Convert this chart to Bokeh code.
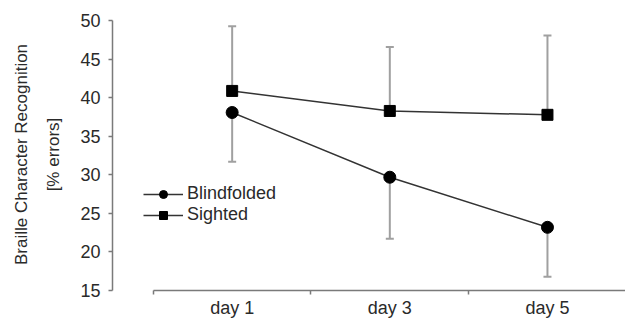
from bokeh.plotting import figure
from bokeh.models import Range1d, FixedTicker, Whisker, ColumnDataSource, TeeHead
from bokeh.embed import file_html
from bokeh.resources import INLINE

days = ["day 1", "day 3", "day 5"]
day_pos = [1, 2, 3]
blind_mean = [38.1, 29.7, 23.2]
blind_err = [6.4, 8.0, 6.4]
sighted_mean = [40.9, 38.3, 37.8]
sighted_err = [8.4, 8.3, 10.3]
y_ticks = [15, 20, 25, 30, 35, 40, 45, 50]

FONT = "Liberation Sans"
TXT = "#2a2a2a"
AX = "#7a7a7a"
ERR = "#a0a0a0"
LINE = "#333333"

p = figure(width=625, height=321, output_backend="svg", toolbar_location=None,
           x_range=Range1d(0.241, 3.495), y_range=Range1d(15, 50.3),
           min_border_left=112, min_border_right=0, min_border_top=18, min_border_bottom=31)
p.outline_line_color = None
p.xgrid.visible = False
p.ygrid.visible = False

blind_src = ColumnDataSource(dict(x=day_pos, y=blind_mean,
                                  lower=[m - e for m, e in zip(blind_mean, blind_err)]))
sight_src = ColumnDataSource(dict(x=day_pos, y=sighted_mean,
                                  upper=[m + e for m, e in zip(sighted_mean, sighted_err)]))

wb = Whisker(base="x", upper="y", lower="lower", source=blind_src, level="underlay",
             line_color=ERR, line_width=2, upper_head=None,
             lower_head=TeeHead(size=8, line_color=ERR, line_width=2))
ws = Whisker(base="x", upper="upper", lower="y", source=sight_src, level="underlay",
             line_color=ERR, line_width=2, lower_head=None,
             upper_head=TeeHead(size=8, line_color=ERR, line_width=2))
p.add_layout(wb)
p.add_layout(ws)

p.line("x", "y", source=sight_src, line_color=LINE, line_width=1.5, legend_label="Sighted")
p.scatter("x", "y", source=sight_src, marker="square", size=11, fill_color="black",
          line_color="black", legend_label="Sighted")
p.line("x", "y", source=blind_src, line_color=LINE, line_width=1.5, legend_label="Blindfolded")
p.scatter("x", "y", source=blind_src, marker="circle", size=12, fill_color="black",
          line_color="black", legend_label="Blindfolded")

items = p.legend[0].items
p.legend[0].items = [items[1], items[0]]
lg = p.legend[0]
lg.location = (31, 65)
lg.border_line_color = None
lg.background_fill_alpha = 0
lg.padding = 0
lg.margin = 0
lg.spacing = 0
lg.glyph_width = 40
lg.glyph_height = 20
lg.label_height = 20
lg.label_standoff = 4
lg.label_text_font = FONT
lg.label_text_font_size = "18px"
lg.label_text_color = TXT

ya = p.yaxis[0]
ya.ticker = FixedTicker(ticks=y_ticks)
ya.bounds = (15, 50)
ya.axis_label = "Braille Character Recognition\n[% errors]"
ya.axis_label_text_font = FONT
ya.axis_label_text_font_size = "17px"
ya.axis_label_text_font_style = "normal"
ya.axis_label_text_color = TXT
ya.axis_label_text_line_height = 1.7
ya.axis_label_standoff = 14
ya.major_label_text_font = FONT
ya.major_label_text_font_size = "18px"
ya.major_label_text_color = TXT
ya.major_label_standoff = 8
ya.major_tick_out = 4
ya.major_tick_in = 0
ya.minor_tick_out = 0
ya.minor_tick_in = 0
ya.axis_line_color = AX
ya.axis_line_width = 1.5
ya.major_tick_line_color = AX
ya.major_tick_line_width = 1.5

xa = p.xaxis[0]
xa.ticker = FixedTicker(ticks=day_pos, minor_ticks=[0.5, 1.5, 2.5, 3.5])
xa.major_label_overrides = {pos: d for pos, d in zip(day_pos, days)}
xa.bounds = (0.5, 3.5)
xa.major_label_text_font = FONT
xa.major_label_text_font_size = "18px"
xa.major_label_text_color = TXT
xa.major_label_standoff = 3
xa.major_tick_out = 0
xa.major_tick_in = 0
xa.minor_tick_out = 4
xa.minor_tick_in = 0
xa.axis_line_color = AX
xa.axis_line_width = 1.5
xa.minor_tick_line_color = AX
xa.minor_tick_line_width = 1.5

open("out.html", "w").write(file_html(p, INLINE))
